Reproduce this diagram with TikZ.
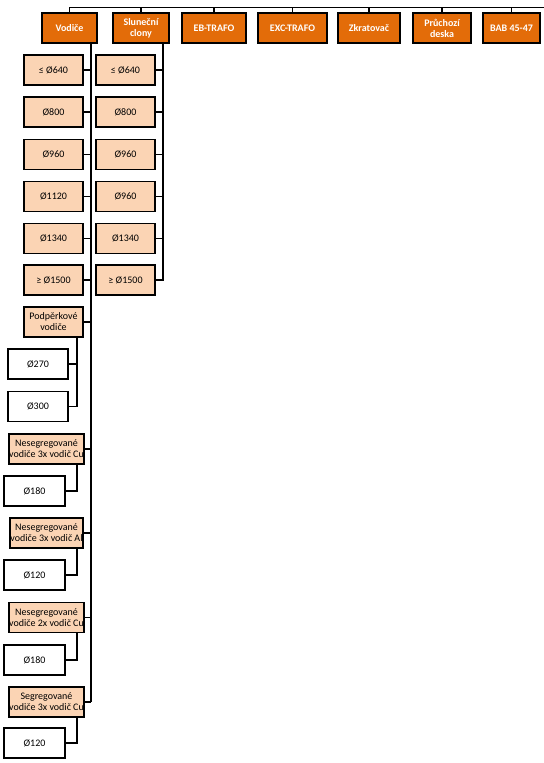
\documentclass[tikz,border=0pt]{standalone}
\usepackage{fontspec}
\setmainfont{Carlito}
\definecolor{orng}{HTML}{E36C09}
\definecolor{peach}{HTML}{FBD4B4}
\begin{document}
\begin{tikzpicture}[x=1bp,y=-1bp,
  every node/.style={inner sep=0pt, align=center, font=\fontsize{10bp}{11bp}\selectfont},
  topbox/.style={draw=black, line width=1.9bp, fill=orng, text=white, font=\fontsize{10bp}{11bp}\selectfont\bfseries, minimum height=30bp},
  subbox/.style={draw=black, line width=1.9bp, fill=peach, minimum height=30bp, minimum width=59bp},
  leafbox/.style={draw=black, line width=1.9bp, fill=white, minimum height=30bp},
  conn/.style={line width=1.9bp, draw=black}]
\useasboundingbox (0,0) rectangle (544,763);
% top level
\node[topbox, minimum width=55bp] (vod) at (69.5,28) {Vodiče};
\node[topbox, minimum width=56bp] (slu) at (141,28) {Sluneční\\clony};
\node[topbox, minimum width=64bp] (eb) at (214,28) {EB-TRAFO};
\node[topbox, minimum width=69bp] (exc) at (292.5,28) {EXC-TRAFO};
\node[topbox, minimum width=62bp] (zkr) at (369,28) {Zkratovač};
\node[topbox, minimum width=58bp] (pru) at (442,28) {Průchozí\\deska};
\node[topbox, minimum width=57bp] (bab) at (511.5,28) {BAB 45-47};
\coordinate (rootR) at (544,7.5);
\draw[conn] (vod.north) |- (rootR);
\foreach \n in {slu,eb,exc,zkr,pru,bab} \draw[conn] (\n.north) -- (\n.north |- rootR);
% Vodice column
\node[subbox] (v1) at (53.5,70) {≤ Ø640};
\node[subbox] (v2) at (53.5,112) {Ø800};
\node[subbox] (v3) at (53.5,154.5) {Ø960};
\node[subbox] (v4) at (53.5,196.5) {Ø1120};
\node[subbox] (v5) at (53.5,238.5) {Ø1340};
\node[subbox] (v6) at (53.5,280) {≥ Ø1500};
\node[subbox] (pod) at (53.5,322) {Podpěrkové\\vodiče};
\node[leafbox, minimum width=60bp] (p1) at (38,364) {Ø270};
\node[leafbox, minimum width=60bp] (p2) at (38,406.5) {Ø300};
\node[subbox, minimum width=73bp] (n3cu) at (46.5,449) {Nesegregované\\vodiče 3x vodič Cu};
\node[leafbox, minimum width=61bp] (l1) at (34.5,491) {Ø180};
\node[subbox, minimum width=73bp] (n3al) at (46.5,533) {Nesegregované\\vodiče 3x vodič Al};
\node[leafbox, minimum width=61bp] (l2) at (34.5,575) {Ø120};
\node[subbox, minimum width=73bp] (n2cu) at (46.5,617.5) {Nesegregované\\vodiče 2x vodič Cu};
\node[leafbox, minimum width=61bp] (l3) at (34.5,660) {Ø180};
\node[subbox, minimum width=73bp] (s3cu) at (46.5,702) {Segregované\\vodiče 3x vodič Cu};
\node[leafbox, minimum width=61bp] (l4) at (34.5,743) {Ø120};
\coordinate (vsp) at (91,0);
\draw[conn] (vod.south -| vsp) -- (vsp |- s3cu.east);
\foreach \n in {v1,v2,v3,v4,v5,v6,pod,n3cu,n3al,n2cu,s3cu} \draw[conn] (\n.east) -- (\n.east -| vsp);
% sub spines
\coordinate (ssp) at (77,0);
\draw[conn] (pod.south -| ssp) |- (p2.east);
\draw[conn] (p1.east) -- (p1.east -| ssp);
\draw[conn] (n3cu.south -| ssp) |- (l1.east);
\draw[conn] (n3al.south -| ssp) |- (l2.east);
\draw[conn] (n2cu.south -| ssp) |- (l3.east);
\draw[conn] (s3cu.south -| ssp) |- (l4.east);
% Slunecni column
\node[subbox] (s1) at (125.5,70) {≤ Ø640};
\node[subbox] (s2) at (125.5,112) {Ø800};
\node[subbox] (s3) at (125.5,154.5) {Ø960};
\node[subbox] (s4) at (125.5,196.5) {Ø960};
\node[subbox] (s5) at (125.5,238.5) {Ø1340};
\node[subbox] (s6) at (125.5,280) {≥ Ø1500};
\coordinate (slsp) at (163,0);
\draw[conn] (slu.south -| slsp) |- (s6.east);
\foreach \n in {s1,s2,s3,s4,s5} \draw[conn] (\n.east) -- (\n.east -| slsp);
\end{tikzpicture}
\end{document}
